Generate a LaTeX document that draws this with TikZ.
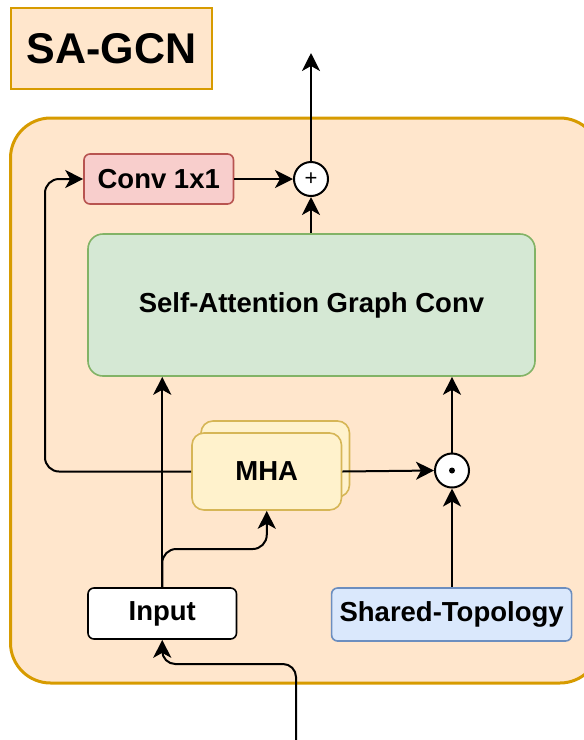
\documentclass[tikz,border=0pt]{standalone}
\usepackage{fontspec}
\setmainfont{Liberation Sans}
\usetikzlibrary{arrows.meta}
\definecolor{orfill}{HTML}{FFE6CC}
\definecolor{ordraw}{HTML}{D79B00}
\definecolor{rdfill}{HTML}{F8CECC}
\definecolor{rddraw}{HTML}{B85450}
\definecolor{grfill}{HTML}{D5E8D4}
\definecolor{grdraw}{HTML}{82B366}
\definecolor{yefill}{HTML}{FFF2CC}
\definecolor{yedraw}{HTML}{D6B656}
\definecolor{blfill}{HTML}{DAE8FC}
\definecolor{bldraw}{HTML}{6C8EBF}
\tikzset{
  boxfont/.style={font=\fontsize{27.5}{33}\selectfont\bfseries},
  blk/.style={boxfont, draw, line width=1.6pt, inner sep=0pt, align=center},
  opcirc/.style={circle, draw=black, fill=white, line width=2pt, minimum size=34pt, inner sep=0pt},
  conn/.style={line width=2pt, -{Stealth[length=18pt,width=18pt,inset=5pt]}},
}
\begin{document}
\begin{tikzpicture}[x=1pt,y=-1pt]
\useasboundingbox (0,0) rectangle (584,740);
\clip (0,0) rectangle (584,740);
% title
\node[blk, font=\fontsize{43}{50}\selectfont\bfseries, fill=orfill, draw=ordraw, line width=2pt,
      minimum width=201pt, minimum height=81pt] (title) at (111.5,48.5) {SA-GCN};
% outer container
\draw[fill=orfill, draw=ordraw, line width=3pt, rounded corners=40pt] (10.5,118) rectangle (600,683);
% blocks
\node[blk, fill=rdfill, draw=rddraw, rounded corners=6pt, minimum width=149.5pt, minimum height=50pt] (conv) at (158.75,179) {Conv 1x1};
\node[blk, fill=grfill, draw=grdraw, rounded corners=15pt, minimum width=447pt, minimum height=142pt] (sagc) at (311.5,305) {Self-Attention Graph Conv};
\node[blk, fill=yefill, draw=yedraw, rounded corners=12pt, minimum width=148.5pt, minimum height=76pt] (mhab) at (275.25,459) {};
\node[blk, fill=yefill, draw=yedraw, rounded corners=12pt, minimum width=149.5pt, minimum height=77pt] (mha) at (266.75,471.5) {MHA};
\node[blk, fill=white, draw=black, rounded corners=6pt, minimum width=148.5pt, minimum height=51pt] (input) at (162.25,613.5) {Input};
\node[blk, fill=blfill, draw=bldraw, rounded corners=6pt, minimum width=240pt, minimum height=53pt] (shared) at (451.6,614.5) {Shared-Topology};
\node[opcirc, font=\fontsize{22}{22}\selectfont] (plus) at (311,179) {+};
\node[opcirc] (odot) at (452,470.5) {};
\fill (odot.center) circle (3pt);
% coordinates
\coordinate (out) at (311,53);
\coordinate (in) at (296,745);
% connectors
\draw[conn] (plus.north) -- (out);
\draw[conn] (sagc.north -| plus) -- (plus.south);
\draw[conn] (conv.east) -- (plus.west);
\draw[conn, rounded corners=14pt] (mha.west) -- (45,471.5) -- (45,179) -- (conv.west);
\draw[conn] (mha.east) -- (odot.west);
\draw[conn] (shared.north -| odot) -- (odot.south);
\draw[conn] (odot.north) -- (odot |- sagc.south);
\draw[conn] (input.north) -- (input.north |- sagc.south);
\draw[conn, rounded corners=14pt] (input.north) -- (162.25,549) -- (266.75,549) -- (mha.south);
\draw[conn, rounded corners=13pt] (in) -- (296,664) -- (162.25,664) -- (input.south);
\end{tikzpicture}
\end{document}
